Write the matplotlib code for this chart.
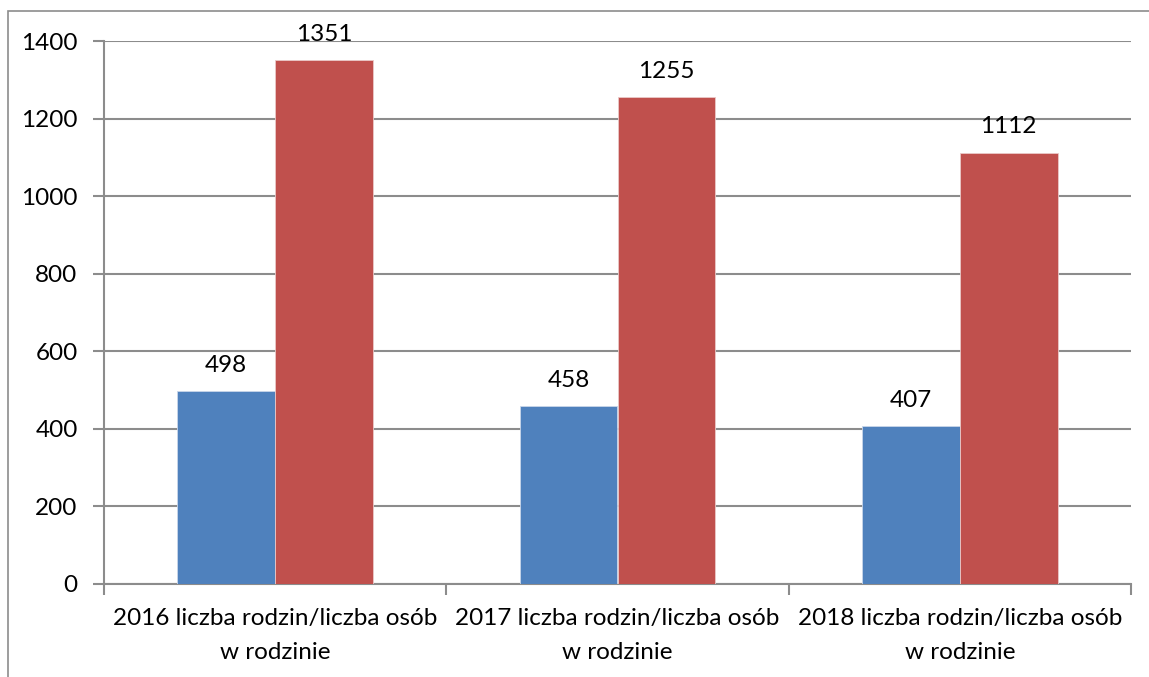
import matplotlib
matplotlib.use('Agg')
import matplotlib.pyplot as plt
from matplotlib.patches import Rectangle
import numpy as np

categories = ['2016 liczba rodzin/liczba osób\nw rodzinie',
              '2017 liczba rodzin/liczba osób\nw rodzinie',
              '2018 liczba rodzin/liczba osób\nw rodzinie']
rodziny = [498, 458, 407]
osoby = [1351, 1255, 1112]
yticks = [0, 200, 400, 600, 800, 1000, 1200, 1400]

plt.rcParams['font.family'] = ['Lato', 'DejaVu Sans']
fs = 17.5

W, H = 1149, 677
fig = plt.figure(figsize=(W / 100, H / 100), dpi=100)
ax = fig.add_axes([104 / W, 1 - 584 / H, (1131 - 104) / W, (584 - 41) / H])

# outer chart frame (cut by the image edges)
fig.patches.append(Rectangle((8 / W, -0.1), 1.2, 1 - 11 / H + 0.1, transform=fig.transFigure,
                             fill=False, edgecolor='#8c8c8c', linewidth=1.2))

x = np.arange(len(categories))
w = 1 / 3.5
b1 = ax.bar(x - w / 2, rodziny, w, color='#4F81BD', edgecolor='#c9d6ea', linewidth=0.6, zorder=3)
b2 = ax.bar(x + w / 2, osoby, w, color='#C0504D', edgecolor='#eac9c8', linewidth=0.6, zorder=3)

for bars in (b1, b2):
    for r in bars:
        ax.annotate(str(int(r.get_height())), (r.get_x() + r.get_width() / 2, r.get_height()),
                    xytext=(0, 11), textcoords='offset points', ha='center', va='bottom', fontsize=fs)

ax.set_xlim(-0.5, 2.5)
ax.set_ylim(0, 1400)
ax.set_yticks(yticks)
ax.set_yticklabels([str(v) for v in yticks], fontsize=fs)
ax.yaxis.grid(True, color='#8c8c8c', linewidth=1.5, zorder=0)
ax.set_xticks(x)
ax.set_xticklabels(categories, fontsize=fs, linespacing=1.8)
ax.set_xticks([-0.5, 0.5, 1.5, 2.5], minor=True)
ax.tick_params(axis='x', which='major', length=0, pad=17)
ax.tick_params(axis='x', which='minor', length=8, width=1.5, color='#8c8c8c')
ax.tick_params(axis='y', length=8, width=1.5, color='#8c8c8c', pad=11)
for s in ('top', 'right'):
    ax.spines[s].set_visible(False)
for s in ('left', 'bottom'):
    ax.spines[s].set_color('#8c8c8c')
    ax.spines[s].set_linewidth(1.5)

fig.savefig('out.png', dpi=100)
